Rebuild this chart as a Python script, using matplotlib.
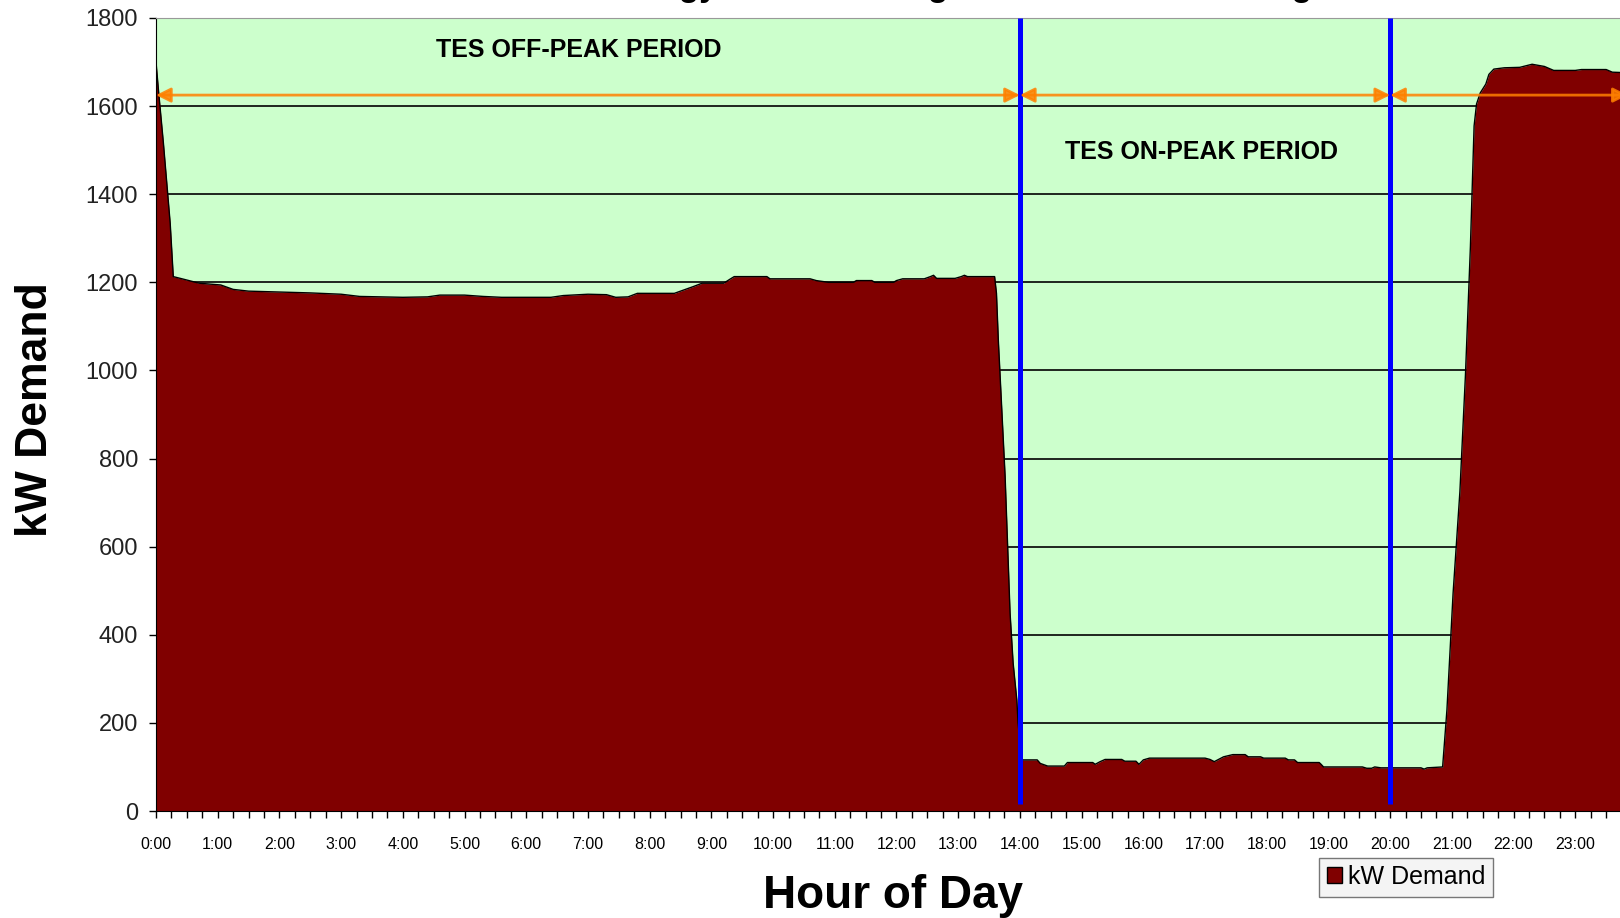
import numpy as np
import matplotlib
matplotlib.use("Agg")
import matplotlib.pyplot as plt
from matplotlib.patches import Patch

plt.rcParams['font.family'] = ['Liberation Sans', 'DejaVu Sans']

# hour of day (decimal hours) and kW demand
hours = [0.0, 0.04, 0.12, 0.23, 0.28, 0.45, 0.7, 1.05, 1.25, 1.5, 2.0, 2.5, 3.0, 3.3,
         4.0, 4.4, 4.6, 5.0, 5.3, 5.6, 6.0, 6.4, 6.6, 7.0, 7.3, 7.45, 7.65, 7.8, 8.4,
         8.5, 8.7, 8.85, 9.2, 9.3, 9.37, 9.9, 9.95, 10.6, 10.7, 10.9, 11.3, 11.35, 11.6,
         11.65, 11.95, 12.0, 12.1, 12.45, 12.55, 12.6, 12.65, 12.95, 13.05, 13.1, 13.15,
         13.59, 13.62, 13.65, 13.76, 13.84, 13.89, 13.95, 13.97, 14.03,
         14.28, 14.33, 14.45, 14.72, 14.77, 15.18, 15.22, 15.3, 15.38, 15.65, 15.7, 15.88,
         15.93, 16.0, 16.1, 17.0, 17.08, 17.15, 17.3, 17.45, 17.65, 17.7, 17.9, 17.95,
         18.3, 18.35, 18.45, 18.5, 18.85, 18.88, 18.92, 19.55, 19.62, 19.7, 19.75, 19.85,
         20.5, 20.55, 20.6, 20.85,
         20.92, 21.02, 21.13, 21.22, 21.3, 21.36, 21.4, 21.46, 21.55, 21.6, 21.68, 21.85,
         22.1, 22.3, 22.5, 22.65, 23.0, 23.1, 23.5, 23.6, 24.0]
kw_demand = [1700, 1636, 1516, 1334, 1213, 1207, 1198, 1194, 1184, 1180, 1178, 1176, 1173, 1168,
             1166, 1167, 1171, 1171, 1168, 1166, 1166, 1166, 1170, 1173, 1172, 1166, 1167, 1175, 1175,
             1180, 1190, 1198, 1198, 1207, 1213, 1213, 1208, 1208, 1204, 1200, 1200, 1204, 1204,
             1200, 1200, 1204, 1208, 1208, 1213, 1216, 1209, 1209, 1213, 1216, 1213,
             1213, 1175, 1069, 760, 450, 336, 252, 200, 116,
             116, 108, 102, 102, 110, 110, 106, 112, 117, 117, 113, 113,
             106, 116, 120, 120, 117, 112, 123, 128, 128, 123, 123, 120,
             120, 116, 116, 110, 110, 106, 100, 100, 97, 97, 100, 98,
             98, 95, 98, 100,
             230, 495, 725, 990, 1280, 1555, 1605, 1630, 1650, 1672, 1684, 1687,
             1688, 1695, 1690, 1681, 1681, 1683, 1683, 1677, 1675]

hour_labels = ['%d:00' % h for h in range(24)]
period_bounds = [0, 14, 20, 23.85]
period_names = ['TES OFF-PEAK PERIOD', 'TES ON-PEAK PERIOD']
y_ticks = [0, 200, 400, 600, 800, 1000, 1200, 1400, 1600, 1800]

fig = plt.figure(figsize=(16.2, 9.18), dpi=100)
ax = fig.add_axes([156 / 1620, 1 - 811 / 918, 1481 / 1620, 793 / 918])
ax.set_facecolor('#ccffcc')

ax.fill_between(hours, kw_demand, 0, color='#800000', zorder=2, lw=0)
ax.plot(hours, kw_demand, color='black', lw=1, zorder=3)

# grid
for yv in y_ticks[1:-1]:
    ax.axhline(yv, color='black', lw=1.2, zorder=1)

# period boundaries
for xv in [14, 20]:
    ax.plot([xv, xv], [15, 1800], color='#0000ff', lw=3.6, zorder=4, solid_capstyle='butt')

# orange arrows
for a, b in zip(period_bounds[:-1], period_bounds[1:]):
    ax.annotate('', xy=(b, 1625), xytext=(a, 1625),
                arrowprops=dict(arrowstyle='<|-|>', color='#ff8000', lw=2,
                                mutation_scale=22, shrinkA=0, shrinkB=0, alpha=0.85),
                zorder=5, annotation_clip=False)

ax.text(6.85, 1728, period_names[0], ha='center', va='center', fontsize=18, fontweight='bold')
ax.text(16.95, 1496, period_names[1], ha='center', va='center', fontsize=18, fontweight='bold')

ax.set_xlim(0, 24)
ax.set_ylim(0, 1800)
ax.set_yticks(y_ticks)
ax.set_yticklabels([str(v) for v in y_ticks], fontsize=17, color='#222222')
ax.set_xticks(range(24))
ax.set_xticklabels(hour_labels, fontsize=11.5)
ax.set_xticks(np.arange(0, 24, 0.25), minor=True)
ax.tick_params(axis='x', which='both', length=5, width=1, direction='out', pad=14)
ax.tick_params(axis='y', length=5, width=1, direction='out', pad=8)

ax.spines['top'].set_color('#999999')
ax.spines['left'].set_color('black')
ax.spines['bottom'].set_color('black')

fig.text(36 / 1620, 1 - 410 / 918, 'kW Demand', rotation=90, ha='center', va='center',
         fontsize=32, fontweight='bold')
fig.text(893 / 1620, 1 - 896 / 918, 'Hour of Day', ha='center', va='center',
         fontsize=33, fontweight='bold')
fig.text(856 / 1620, 1 + 4 / 918, 'Chiller Plant Energy Profile During Peak Summer Cooling',
         ha='center', va='baseline', fontsize=24, fontweight='bold')

leg = fig.legend(handles=[Patch(facecolor='#800000', edgecolor='black')], labels=['kW Demand'],
                 loc='center', bbox_to_anchor=(1406 / 1620, 1 - 877 / 918), fontsize=18,
                 handlelength=0.6, handleheight=0.6, handletextpad=0.25, fancybox=False,
                 borderpad=0.3, framealpha=1)
leg.get_frame().set_edgecolor('#777777')
leg.get_frame().set_facecolor('#f4f4f4')

fig.savefig('out.png', dpi=100)
